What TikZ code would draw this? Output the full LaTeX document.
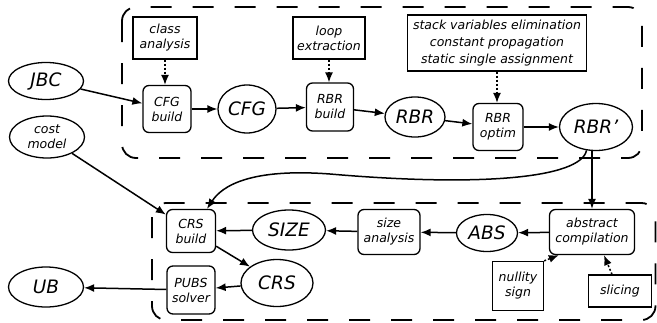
\documentclass[tikz,border=0pt]{standalone}
\usepackage{fontspec}
\setmainfont{DejaVu Sans}
\usetikzlibrary{shapes.geometric,arrows.meta}
\begin{document}
\begin{tikzpicture}[x=1pt,y=-1pt,
 small/.style={font=\fontsize{12.5}{15}\selectfont\itshape, align=center},
 big/.style={font=\fontsize{18.5}{22}\selectfont\itshape},
 ell/.style={draw, ellipse, line width=1.3pt, inner sep=0pt},
 proc/.style={draw, rounded corners=6pt, line width=1.3pt, inner sep=0pt, small},
 ann/.style={draw, line width=1.3pt, inner sep=0pt, small},
 arr/.style={-{Latex[length=10pt,width=8pt]}, line width=1.5pt},
 darr/.style={arr, dash pattern=on 2pt off 2pt},
 frame/.style={dash pattern=on 21pt off 21pt, line width=1.8pt, rounded corners=14pt}
]
\useasboundingbox (0,0) rectangle (657,322);
\draw[frame] (122,7) rectangle (642,158);
\draw[frame] (152,203) rectangle (655.5,320);

% top row
\node[ell, big, minimum width=75, minimum height=37] (jbc) at (46,81) {JBC};
\node[ell, small, minimum width=75, minimum height=42] (costm) at (47,137) {cost\\model};
\node[ann, minimum width=64, minimum height=42] (classan) at (165,38) {class\\analysis};
\node[proc, minimum width=48, minimum height=47] (cfgb) at (167,109) {CFG\\build};
\node[ell, big, minimum width=58, minimum height=48] (cfg) at (247,109) {CFG};
\node[ann, minimum width=72, minimum height=42] (loop) at (329,38) {loop\\extraction};
\node[proc, minimum width=47, minimum height=48] (rbrb) at (330,107) {RBR\\build};
\node[ell, big, minimum width=60, minimum height=40] (rbr) at (415,117) {RBR};
\node[proc, minimum width=50, minimum height=47] (rbro) at (498,127) {RBR\\optim};
\node[ann, minimum width=179, minimum height=56, font=\fontsize{12.5}{17}\selectfont\itshape] (stack) at (497,43) {stack variables elimination\\constant propagation\\static single assignment};
\node[ell, big, minimum width=73, minimum height=47] (rbrp) at (596,127) {RBR\char"0027};

% bottom part
\node[proc, minimum width=49, minimum height=43] (crsb) at (191,231) {CRS\\build};
\node[ell, big, minimum width=73, minimum height=40] (size) at (289,230) {SIZE};
\node[ell, big, minimum width=72, minimum height=47] (crs) at (277,283) {CRS};
\node[proc, minimum width=48, minimum height=48] (pubs) at (191,290) {PUBS\\solver};
\node[ell, big, minimum width=75, minimum height=40] (ub) at (46,287) {UB};
\node[proc, minimum width=62, minimum height=45] (sizean) at (389,232) {size\\analysis};
\node[ell, big, minimum width=61, minimum height=37] (abs) at (487,233) {ABS};
\node[proc, minimum width=85, minimum height=45] (abscomp) at (592,232) {abstract\\compilation};
\node[ann, minimum width=51, minimum height=49] (nullity) at (518,286) {nullity\\sign};
\node[ann, minimum width=63, minimum height=32] (slicing) at (620,291) {slicing};

% connectors
\draw[arr] (jbc) -- (cfgb);
\draw[arr] (cfgb) -- (cfg);
\draw[arr] (cfg) -- (rbrb);
\draw[arr] (rbrb) -- (rbr);
\draw[arr] (rbr) -- (rbro);
\draw[arr] (rbro) -- (rbrp);
\draw[darr] (classan.south) -- (classan.south |- cfgb.north);
\draw[darr] (loop.south) -- (loop.south |- rbrb.north);
\draw[darr] (stack.south) -- (stack.south |- rbro.north);
\draw[arr] (abscomp.north |- rbrp.south) -- (abscomp.north);
\draw[arr] (rbrp.-112) .. controls +(-6,28) and (480,187) .. (330,174)
  .. controls (250,168) and (222,186) .. ([xshift=16pt]crsb.north);
\draw[arr] (costm) -- (crsb);
\draw[arr] (abscomp) -- (abs);
\draw[arr] (abs) -- (sizean);
\draw[arr] (sizean) -- (size);
\draw[arr] (size) -- (crsb);
\draw[arr] (crsb) -- (crs);
\draw[arr] (crs) -- (pubs);
\draw[arr] (pubs) -- (ub);
\draw[darr] (nullity.north east) -- ([xshift=10pt]abscomp.south west);
\draw[darr] ([xshift=-8pt]slicing.north) -- ([xshift=12pt]abscomp.south);
\end{tikzpicture}
\end{document}
